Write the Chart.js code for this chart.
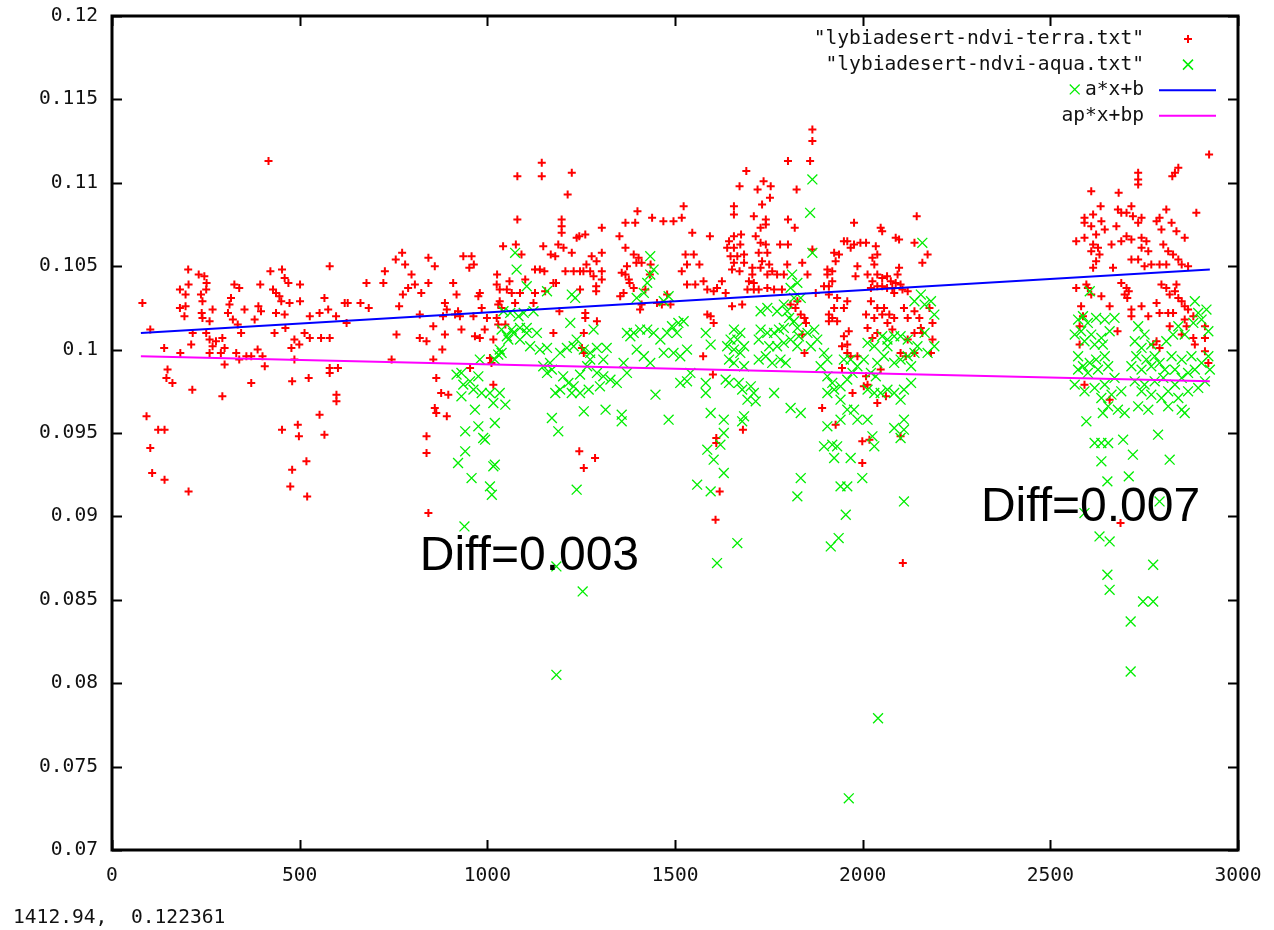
<!DOCTYPE html>
<html lang="en">
<head>
<meta charset="UTF-8">
<title>lybiadesert ndvi terra / aqua</title>
<script src="https://cdn.jsdelivr.net/npm/chart.js"></script>
<style>
  html, body { margin: 0; padding: 0; background: #fff; }
  #wrap { width: 1274px; height: 930px; position: relative; }
</style>
</head>
<body>
<div id="wrap"><canvas id="ndviChart"></canvas></div>
<script>
// axis ticks
const xTicks = [0, 500, 1000, 1500, 2000, 2500, 3000];
const xTickLabels = ['0', '500', '1000', '1500', '2000', '2500', '3000'];
const yTicks = [0.07, 0.075, 0.08, 0.085, 0.09, 0.095, 0.1, 0.105, 0.11, 0.115, 0.12];
const yTickLabels = ['0.07', '0.075', '0.08', '0.085', '0.09', '0.095', '0.1', '0.105', '0.11', '0.115', '0.12'];

const seriesNames = ['"lybiadesert-ndvi-terra.txt"', '"lybiadesert-ndvi-aqua.txt"', 'a*x+b', 'ap*x+bp'];

// terra points [day, ndvi]
const terraPoints = [
  [81,0.1028],[102,0.1012],[139,0.1001],[148,0.0988],[145,0.0983],[161,0.0980],[182,0.0998],[214,0.0976],[92,0.0960],[123,0.0952],[140,0.0952],[102,0.0941],[107,0.0926],[140,0.0922],[204,0.0915],
  [417,0.1113],
  [203,0.1048],[231,0.1045],[246,0.1044],[252,0.1040],[251,0.1036],[237,0.1033],[181,0.1036],[196,0.1033],[196,0.1026],[181,0.1025],[193,0.1020],[204,0.1039],[241,0.1029],[239,0.1022],[241,0.1019],[268,0.1024],[260,0.1017],[215,0.1010],[211,0.1003],[251,0.1010],[260,0.1006],[268,0.1002],[277,0.1005],[294,0.1007],[290,0.0998],[300,0.1001],[260,0.0998],[300,0.0991],[294,0.0972],
  [309,0.1022],[313,0.1027],[317,0.1031],[326,0.1039],[339,0.1037],[322,0.1018],[335,0.1015],[344,0.1010],[353,0.1024],[331,0.0998],[339,0.0994],[358,0.0996],[371,0.0996],[388,0.1000],[401,0.0996],[407,0.0990],[371,0.0980],[380,0.1018],[390,0.1026],[397,0.1023],[395,0.1039],
  [422,0.1047],[429,0.1036],[437,0.1034],[446,0.1032],[451,0.1029],[453,0.1048],[460,0.1043],[470,0.1040],[473,0.1028],[437,0.1022],[460,0.1021],[433,0.1010],[462,0.1013],[501,0.1039],[501,0.1029],[478,0.1001],[486,0.1006],[499,0.1003],[486,0.0994],[480,0.0981],[524,0.0983],[513,0.1010],[527,0.1007],[527,0.1020],[553,0.1022],[566,0.1031],[580,0.1050],[576,0.1024],[597,0.1020],[557,0.1007],[580,0.1007],[580,0.0989],[602,0.0989],[580,0.0986],[598,0.0973],[598,0.0969],[553,0.0961],[566,0.0949],[495,0.0955],[498,0.0948],[453,0.0952],[480,0.0928],[475,0.0918],[518,0.0933],[520,0.0912],
  [620,0.1028],[628,0.1028],[625,0.1016],[662,0.1028],[684,0.1025],[678,0.1040],[723,0.1040],[727,0.1047],[745,0.0994],[758,0.1009],[765,0.1026],[756,0.1054],[773,0.1058],[781,0.1051],[798,0.1045],[807,0.1039],[775,0.1033],[789,0.1037],[824,0.1034],[820,0.1021],[820,0.1007],[838,0.1005],[843,0.1055],[843,0.1040],[838,0.0948],[838,0.0938],[843,0.0902],
  [860,0.1050],[856,0.1014],[887,0.1028],[892,0.1024],[882,0.1020],[887,0.1009],[880,0.1000],[856,0.0994],[864,0.0983],[877,0.0974],[896,0.0973],[860,0.0965],[864,0.0962],[892,0.0960],[909,0.1040],[918,0.1033],[936,0.1056],[958,0.1056],[952,0.1049],[964,0.1051],[914,0.1021],[922,0.1023],[927,0.1020],[931,0.1012],[963,0.1020],[980,0.1034],[976,0.1032],[985,0.1025],[999,0.1019],[993,0.1012],[967,0.1008],[980,0.1007],[1016,0.1006],[954,0.0989],[1011,0.0992],
  [1025,0.1039],[1033,0.1036],[1059,0.1041],[1052,0.1036],[1065,0.1034],[1033,0.1029],[1029,0.1027],[1038,0.1025],[1025,0.1019],[1029,0.1015],[1048,0.1015],[1026,0.1045],[1074,0.1028],[1087,0.1034],[1101,0.1042],[1123,0.1028],[1127,0.1034],[1154,0.1035],[1176,0.1040],[1183,0.1040],[1176,0.1010],[1192,0.1023],[1261,0.1022],[1261,0.1019],[1292,0.1017],[1257,0.1010],[1252,0.1001],[1257,0.0998],[1007,0.0995],[1016,0.0979],[1245,0.0939],[1287,0.0935],[1257,0.0929],
  [1145,0.1112],[1080,0.1104],[1145,0.1104],[1225,0.1106],[1214,0.1093],[1080,0.1078],[1198,0.1078],[1198,0.1074],[1198,0.1070],[1305,0.1073],[1238,0.1067],[1245,0.1068],[1261,0.1069],[1352,0.1068],[1368,0.1076],[1394,0.1076],[1400,0.1083],[1439,0.1079],[1469,0.1077],[1496,0.1077],[1518,0.1079],[1523,0.1086],[1546,0.1070],[1593,0.1068],
  [1042,0.1062],[1076,0.1063],[1091,0.1057],[1149,0.1062],[1169,0.1057],[1181,0.1056],[1189,0.1063],[1203,0.1061],[1225,0.1058],[1305,0.1058],[1278,0.1056],[1291,0.1053],[1264,0.1051],[1274,0.1047],[1208,0.1047],[1230,0.1047],[1247,0.1047],[1256,0.1047],[1127,0.1048],[1140,0.1048],[1152,0.1047],[1305,0.1047],[1305,0.1042],[1283,0.1044],[1290,0.1038],[1290,0.1035],[1247,0.1036],
  [1358,0.1046],[1368,0.1045],[1377,0.1042],[1379,0.1040],[1390,0.1037],[1363,0.1034],[1354,0.1032],[1372,0.1050],[1397,0.1052],[1411,0.1052],[1368,0.1061],[1390,0.1057],[1403,0.1055],[1433,0.1045],[1435,0.1051],[1421,0.1036],[1479,0.1033],[1488,0.1027],[1411,0.1027],[1407,0.1024],[1452,0.1028],[1465,0.1027],
  [1528,0.1057],[1550,0.1057],[1532,0.1051],[1518,0.1047],[1565,0.1051],[1532,0.1039],[1554,0.1039],[1576,0.1041],[1586,0.1036],[1603,0.1035],[1612,0.1037],[1586,0.1021],[1595,0.1020],[1603,0.1016],[1575,0.0996],[1601,0.0985],[1610,0.0947],[1610,0.0944],[1608,0.0898],
  [1866,0.1132],[1866,0.1125],[1801,0.1113],[1860,0.1113],[1690,0.1107],[1672,0.1098],[1736,0.1101],[1720,0.1096],[1755,0.1098],[1753,0.1091],[1824,0.1096],[1657,0.1086],[1657,0.1081],[1732,0.1087],[1710,0.1080],[1742,0.1078],[1728,0.1073],[1742,0.1075],[1801,0.1078],[1819,0.1073],
  [1657,0.1068],[1676,0.1069],[1644,0.1065],[1639,0.1061],[1657,0.1061],[1674,0.1063],[1648,0.1056],[1666,0.1056],[1684,0.1057],[1657,0.1052],[1684,0.1052],[1652,0.1048],[1672,0.1047],
  [1706,0.1049],[1706,0.1045],[1697,0.1041],[1710,0.1040],[1693,0.1036],[1710,0.1036],[1723,0.1036],
  [1715,0.1068],[1728,0.1064],[1742,0.1063],[1723,0.1058],[1746,0.1058],[1732,0.1053],[1751,0.1051],[1759,0.1047],[1728,0.1049],[1746,0.1045],[1780,0.1063],[1801,0.1063],[1799,0.1051],[1772,0.1045],[1790,0.1045],[1746,0.1037],[1764,0.1036],[1785,0.1036],[1853,0.1045],[1839,0.1052],[1866,0.1060],
  [1625,0.1041],[1635,0.1034],[1652,0.1026],[1679,0.1027],[1681,0.0952],[1619,0.0915],
  [1835,0.1021],[1845,0.1019],[1849,0.1016],[1839,0.1009],[1845,0.0998],[1826,0.1029],[1808,0.1027],[1821,0.1025],[1875,0.1034],
  [1897,0.1038],[1910,0.1038],[1906,0.1045],[1919,0.1047],[1928,0.1053],[1937,0.1057],[1924,0.1058],[1906,0.1048],[1919,0.1041],[1910,0.1033],[1932,0.1031],[1924,0.1025],[1910,0.1021],[1919,0.1019],[1932,0.1017],[1910,0.1017],[1950,0.1025],[1959,0.1029],[1950,0.1008],[1963,0.1011],[1945,0.1002],[1959,0.0998],[1945,0.0989],[1892,0.0965],[1928,0.0955],[1973,0.0974],
  [1950,0.1065],[1959,0.1065],[1977,0.1063],[1994,0.1064],[2009,0.1064],[1968,0.1061],[2035,0.1062],[2039,0.1057],[2026,0.1055],[2031,0.1051],[1977,0.1076],[1981,0.1044],[1986,0.1050],[2048,0.1073],[2052,0.1071],[2088,0.1067],[2097,0.1066],[2138,0.1064],[2144,0.1080],[2173,0.1057],[2159,0.1052],
  [2013,0.1045],[2026,0.1041],[2039,0.1045],[2052,0.1043],[2065,0.1044],[2075,0.1041],[2093,0.1045],[2097,0.1049],[2088,0.1040],[2101,0.1039],[2106,0.1036],[2120,0.1035],[2022,0.1037],[2039,0.1038],[2052,0.1038],[2065,0.1037],[2079,0.1037],[2084,0.1034],
  [2022,0.1029],[2039,0.1025],[2057,0.1025],[2009,0.1021],[2031,0.1019],[2052,0.1021],[2071,0.1021],[2084,0.1019],[2013,0.1013],[2026,0.1007],[2039,0.1010],[2066,0.1016],[2079,0.1012],[2110,0.1025],[2120,0.1019],[2138,0.1023],[2151,0.1019],[2155,0.1013],[2138,0.1010],[2120,0.1006],[2159,0.1010],[2178,0.1025],[2186,0.1016],[2186,0.1006],[2182,0.0998],[2115,0.0996],[2138,0.0998],[2101,0.0998],[2048,0.0988],[2039,0.0968],[2062,0.0972],[2003,0.0978],[1999,0.0932],[2018,0.0946],[1999,0.0945],[2101,0.0948],[1959,0.1003],[1968,0.0996],[1986,0.0996],[2013,0.0979],[2009,0.0984],[2107,0.0872],
  [2923,0.1117],[2609,0.1095],[2682,0.1094],[2734,0.1106],[2734,0.1102],[2734,0.1099],[2832,0.1106],[2841,0.1109],[2825,0.1104],[2889,0.1082],
  [2634,0.1086],[2591,0.1079],[2614,0.1081],[2591,0.1076],[2609,0.1074],[2636,0.1077],[2645,0.1072],[2622,0.1069],[2569,0.1065],[2591,0.1067],[2614,0.1063],[2627,0.1061],[2609,0.1059],[2631,0.1057],[2622,0.1053],[2614,0.1049],[2663,0.1063],[2667,0.1049],[2680,0.1084],[2676,0.1074],[2689,0.1082],[2703,0.1082],[2716,0.1086],[2720,0.1080],[2743,0.1079],[2734,0.1076],[2703,0.1068],[2689,0.1065],[2716,0.1066],[2743,0.1067],[2756,0.1065],[2743,0.1061],[2761,0.1059],[2716,0.1054],[2734,0.1054],[2751,0.1050],[2769,0.1051],[2783,0.1077],[2791,0.1079],[2809,0.1084],[2796,0.1072],[2801,0.1063],[2823,0.1076],[2836,0.1071],[2858,0.1067],[2814,0.1059],[2827,0.1057],[2841,0.1054],[2850,0.1051],[2867,0.1050],[2791,0.1051],[2809,0.1051],
  [2569,0.1037],[2596,0.1039],[2600,0.1037],[2609,0.1033],[2636,0.1032],[2658,0.1026],[2582,0.1026],[2578,0.1014],[2587,0.1020],[2578,0.1003],[2591,0.0979],[2679,0.1011],[2658,0.0970],[2689,0.1040],[2703,0.1037],[2698,0.1033],[2709,0.1035],[2705,0.1031],
  [2716,0.1024],[2716,0.1020],[2743,0.1026],[2761,0.1020],[2783,0.1028],[2791,0.1022],[2814,0.1022],[2827,0.1022],[2796,0.1039],[2809,0.1037],[2818,0.1033],[2832,0.1035],[2836,0.1039],[2841,0.1031],[2850,0.1029],[2858,0.1026],[2867,0.1024],[2881,0.1020],[2858,0.1018],[2818,0.1014],[2850,0.1009],[2863,0.1014],[2881,0.1007],[2885,0.1003],[2912,0.1014],[2912,0.1007],[2912,0.0999],[2921,0.0992],[2783,0.1005],[2791,0.1001],[2774,0.1003],[2687,0.0896]
];

// aqua points [day, ndvi]
const aquaPoints = [
  [1074,0.1058],[1078,0.1048],[1105,0.1038],[1159,0.1035],[1225,0.1033],[1234,0.1031],[1434,0.1056],[1443,0.1048],[1434,0.1045],[1426,0.1040],[1417,0.1034],[1398,0.1031],[1483,0.1032],[1470,0.1029],
  [1043,0.1023],[1061,0.1022],[1083,0.1020],[1097,0.1022],[1123,0.1023],[1087,0.1013],[1069,0.1010],[1052,0.1008],[1056,0.1006],[1065,0.1012],[1038,0.1012],
  [1033,0.1000],[1029,0.0997],[1020,0.0994],[1038,0.0998],
  [980,0.0994],[976,0.0984],[954,0.0981],[931,0.0986],[918,0.0985],[936,0.0979],[931,0.0972],[963,0.0976],[985,0.0974],[1007,0.0974],[1033,0.0974],
  [1016,0.0968],[967,0.0964],[1048,0.0967],
  [941,0.0951],[976,0.0954],[1020,0.0956],[994,0.0946],[989,0.0947],
  [941,0.0939],[922,0.0932],[958,0.0923],[1020,0.0931],[1016,0.0930],[1007,0.0918],[1012,0.0913],[939,0.0894],
  [1114,0.1002],[1140,0.1000],[1159,0.1001],[1167,0.0992],[1172,0.0988],[1194,0.0998],[1212,0.1001],[1230,0.1002],[1221,0.1016],[1238,0.1006],[1257,0.1000],[1274,0.0998],[1292,0.1001],[1283,0.1012],[1292,0.0986],[1309,0.0984],[1328,0.0982],[1300,0.0978],[1270,0.0976],[1247,0.0974],[1225,0.0974],[1194,0.0976],[1181,0.0974],[1172,0.0959],[1189,0.0951],[1238,0.0916],[1257,0.0963],[1315,0.0964],[1358,0.0961],[1358,0.0957],[1345,0.0980],[1372,0.0986],[1363,0.0992],
  [1372,0.1010],[1390,0.1010],[1407,0.1012],[1426,0.1012],[1443,0.1010],[1461,0.1006],[1479,0.1010],[1492,0.1014],[1509,0.1016],[1523,0.1017],[1505,0.1010],[1496,0.0998],[1514,0.0996],[1532,0.1000],[1541,0.0986],[1532,0.0981],[1514,0.0980],[1448,0.0973],[1483,0.0958],[1559,0.0919],[1595,0.0915],[1603,0.0934],[1586,0.0940],[1595,0.0962],[1582,0.0974],[1582,0.0980],[1582,0.1010],[1595,0.1003],[1470,0.0998],[1434,0.0992],[1417,0.0996],[1398,0.1000],[1381,0.1008],[1318,0.1001],[1309,0.0994],
  [1149,0.0990],[1159,0.0986],[1202,0.0984],[1216,0.0980],[1230,0.0978],[1247,0.0985],[1266,0.0990],[1274,0.0994],[1087,0.1006],[1105,0.1010],[1132,0.1010],[1105,0.1013],
  [1184,0.0870],[1254,0.0855],[1184,0.0805],
  [1866,0.1102],[1860,0.1082],[1866,0.1058],[2159,0.1064],
  [1812,0.1045],[1826,0.1040],[1808,0.1037],[1835,0.1031],[1817,0.1031],
  [1728,0.1023],[1746,0.1025],[1772,0.1023],[1790,0.1027],[1799,0.1023],[1804,0.1019],[1817,0.1017],[1826,0.1013],[1790,0.1013],[1777,0.1012],[1764,0.1010],[1746,0.1010],[1728,0.1012],[1723,0.1006],[1751,0.1002],[1772,0.1002],[1790,0.1004],[1808,0.1006],[1830,0.1008],[1826,0.1002],[1742,0.0996],[1723,0.0994],[1759,0.0992],[1781,0.0994],[1795,0.0992],
  [1657,0.1012],[1674,0.1010],[1648,0.1006],[1666,0.1006],[1684,0.1002],[1657,0.1000],[1674,0.0998],[1644,0.0994],[1657,0.0992],[1684,0.0990],[1639,0.1002],
  [1635,0.0982],[1644,0.0980],[1670,0.0980],[1679,0.0976],[1702,0.0978],[1710,0.0974],[1693,0.0970],[1715,0.0969],[1684,0.0960],[1679,0.0957],[1630,0.0958],[1630,0.0950],[1621,0.0943],[1630,0.0926],
  [1764,0.0974],[1808,0.0965],[1835,0.0962],[1835,0.0923],[1826,0.0912],
  [1853,0.1010],[1871,0.1012],[1879,0.1006],[1862,0.1002],[1897,0.0998],[1906,0.0994],[1888,0.0990],[1906,0.0984],[1919,0.0980],[1924,0.0976],[1906,0.0974],[1941,0.0978],[1959,0.0982],[1941,0.0970],[1959,0.0964],[1977,0.0964],[1986,0.0958],[2013,0.0958],[1941,0.0958],[1906,0.0954],[1919,0.0943],[1932,0.0942],[1897,0.0942],[1924,0.0935],[1968,0.0935],[1941,0.0918],[1959,0.0918],[1999,0.0923],[1955,0.0901],
  [2022,0.0986],[2035,0.0984],[2039,0.0992],[2057,0.0996],[2066,0.1002],[2084,0.0992],[2101,0.0994],[2120,0.0996],[2129,0.0990],[2129,0.0980],[2110,0.0976],[2084,0.0974],[2066,0.0976],[2048,0.0974],[2031,0.0974],[2013,0.0976],[2101,0.0970],[2110,0.0958],[2110,0.0952],[2084,0.0953],[2101,0.0947],[2026,0.0948],[2031,0.0942],[2110,0.0909],
  [2138,0.1029],[2155,0.1033],[2165,0.1027],[2182,0.1029],[2191,0.1021],[2165,0.1010],[2191,0.1002],[2173,0.0998],[2146,0.1002],[2138,0.0998],[2120,0.1006],[2101,0.1008],[2084,0.1008],[2066,0.1006],[2052,0.1008],[2031,0.1002],[2013,0.1004],[2003,0.0994],[1986,0.0990],[1973,0.0986],[1968,0.0994],[1950,0.0994],
  [1612,0.0872],[1666,0.0884],[1915,0.0882],[1936,0.0887],[2041,0.0779],[1963,0.0731],
  [2565,0.1156],
  [2605,0.1035],[2587,0.1020],[2574,0.1018],[2600,0.1016],[2622,0.1019],[2645,0.1018],[2671,0.1019],[2565,0.1009],[2582,0.1011],[2609,0.1009],[2636,0.1007],[2658,0.1011],[2591,0.1005],[2618,0.1003],[2640,0.1003],[2574,0.0996],[2587,0.0990],[2605,0.0992],[2622,0.0994],[2645,0.0996],[2574,0.0988],[2600,0.0986],[2627,0.0988],[2654,0.0990],[2565,0.0979],[2591,0.0975],[2618,0.0977],[2645,0.0979],[2671,0.0983],[2636,0.0971],[2663,0.0973],[2689,0.0975],[2654,0.0966],[2698,0.0962],[2680,0.0964],[2640,0.0962],
  [2734,0.1014],[2751,0.1009],[2725,0.1005],[2743,0.1001],[2769,0.1003],[2729,0.0996],[2756,0.0994],[2778,0.0996],[2716,0.0990],[2743,0.0988],[2769,0.0990],[2791,0.0992],[2725,0.0981],[2751,0.0979],[2778,0.0981],[2801,0.0983],[2743,0.0975],[2769,0.0973],[2734,0.0966],[2761,0.0964],[2796,0.0971],[2814,0.0975],[2832,0.0979],[2850,0.0983],[2867,0.0986],[2885,0.0988],[2903,0.0992],[2921,0.0996],[2925,0.0988],[2912,0.0981],[2894,0.0977],[2867,0.0975],[2841,0.0971],[2814,0.0966],[2850,0.0964],[2858,0.0962],[2787,0.0949],[2818,0.0934],
  [2809,0.1005],[2827,0.1009],[2841,0.1014],[2858,0.1009],[2881,0.1016],[2894,0.1022],[2885,0.1029],[2916,0.1024],[2903,0.1018],[2921,0.1011],[2823,0.0996],[2850,0.0994],[2876,0.0996],[2805,0.0988],[2832,0.0988],
  [2596,0.0957],[2618,0.0944],[2636,0.0944],[2654,0.0944],[2694,0.0946],[2720,0.0937],[2636,0.0933],[2652,0.0921],[2709,0.0924],[2791,0.0909],[2631,0.0888],[2658,0.0885],[2652,0.0865],[2658,0.0856],[2774,0.0871],[2747,0.0849],[2774,0.0849],[2714,0.0837],[2714,0.0807],[2591,0.0902]
];

// fitted lines, end points
const fitX = [77, 2925];
const terraFitY = [0.1010, 0.1048];
const aquaFitY = [0.0996, 0.0981];

// text labels placed on the plot
const diffNotes = [
  { text: 'Diff=0.003', x: 820, y: 0.0868 },
  { text: 'Diff=0.007', x: 2315, y: 0.0897 }
];
const cursorText = '1412.94,  0.122361';

const monoFont = '"DejaVu Sans Mono", "Liberation Mono", monospace';

function toXY(pairs) {
  return pairs.map(p => ({ x: p[0], y: p[1] }));
}

function drawPlus(ctx, x, y, r, color, w) {
  ctx.strokeStyle = color;
  ctx.lineWidth = w;
  ctx.beginPath();
  ctx.moveTo(x - r, y); ctx.lineTo(x + r, y);
  ctx.moveTo(x, y - r); ctx.lineTo(x, y + r);
  ctx.stroke();
}

function drawCross(ctx, x, y, r, color, w) {
  ctx.strokeStyle = color;
  ctx.lineWidth = w;
  ctx.beginPath();
  ctx.moveTo(x - r, y - r); ctx.lineTo(x + r, y + r);
  ctx.moveTo(x - r, y + r); ctx.lineTo(x + r, y - r);
  ctx.stroke();
}

// gnuplot-like frame with inward ticks on all four sides, key and labels
const gnuplotFrame = {
  id: 'gnuplotFrame',
  beforeDatasetsDraw(chart) {
    const { ctx, chartArea: a, scales } = chart;
    const tick = 10;
    ctx.save();
    ctx.strokeStyle = '#000';
    ctx.lineWidth = 2;
    ctx.beginPath();
    xTicks.forEach(v => {
      const px = Math.round(scales.x.getPixelForValue(v)) + 0.5;
      ctx.moveTo(px, a.bottom); ctx.lineTo(px, a.bottom - tick);
      ctx.moveTo(px, a.top); ctx.lineTo(px, a.top + tick);
    });
    yTicks.forEach(v => {
      const py = Math.round(scales.y.getPixelForValue(v)) + 0.5;
      ctx.moveTo(a.left, py); ctx.lineTo(a.left + tick, py);
      ctx.moveTo(a.right, py); ctx.lineTo(a.right - tick, py);
    });
    ctx.stroke();
    ctx.lineWidth = 3;
    ctx.strokeRect(a.left, a.top, a.right - a.left, a.bottom - a.top);
    ctx.restore();
  },
  afterDatasetsDraw(chart) {
    const { ctx, chartArea: a, scales } = chart;
    ctx.save();

    // key, top right
    const textRight = a.right - 94;
    const markX = a.right - 50;
    ctx.font = '19.6px ' + monoFont;
    ctx.fillStyle = '#111';
    ctx.textAlign = 'right';
    ctx.textBaseline = 'middle';
    chart.data.datasets.forEach((ds, i) => {
      const yy = a.top + 23 + i * 25.6;
      ctx.fillText(ds.label, textRight, yy);
      if (i === 0) drawPlus(ctx, markX, yy, 4, ds.borderColor, 2);
      else if (i === 1) drawCross(ctx, markX, yy, 5, ds.borderColor, 1.5);
      else {
        ctx.strokeStyle = ds.borderColor;
        ctx.lineWidth = 2;
        ctx.beginPath();
        ctx.moveTo(a.right - 79, yy); ctx.lineTo(a.right - 22, yy);
        ctx.stroke();
      }
    });

    // Diff annotations
    ctx.fillStyle = '#000';
    ctx.font = '48px "Liberation Sans", Arial, sans-serif';
    ctx.textAlign = 'left';
    ctx.textBaseline = 'alphabetic';
    diffNotes.forEach(n => {
      ctx.fillText(n.text, scales.x.getPixelForValue(n.x), scales.y.getPixelForValue(n.y));
    });

    // mouse position readout under the plot
    ctx.fillStyle = '#111';
    ctx.font = '19.6px ' + monoFont;
    ctx.fillText(cursorText, 13, 923);
    ctx.restore();
  }
};

Chart.defaults.color = '#111';

const ctx = document.getElementById('ndviChart').getContext('2d');
const ndviChart = new Chart(ctx, {
  type: 'scatter',
  data: {
    datasets: [
      {
        label: seriesNames[0],
        data: toXY(terraPoints),
        borderColor: '#ff0000',
        backgroundColor: '#ff0000',
        pointStyle: 'cross',
        pointRadius: 4,
        pointBorderWidth: 2,
        order: 4
      },
      {
        label: seriesNames[1],
        data: toXY(aquaPoints),
        borderColor: '#00ee00',
        backgroundColor: '#00ee00',
        pointStyle: 'crossRot',
        pointRadius: 7,
        pointBorderWidth: 1.3,
        order: 3
      },
      {
        label: seriesNames[2],
        data: fitX.map((x, i) => ({ x: x, y: terraFitY[i] })),
        borderColor: '#0000ff',
        borderWidth: 2,
        showLine: true,
        pointRadius: 0,
        fill: false,
        order: 2
      },
      {
        label: seriesNames[3],
        data: fitX.map((x, i) => ({ x: x, y: aquaFitY[i] })),
        borderColor: '#ff00ff',
        borderWidth: 2,
        showLine: true,
        pointRadius: 0,
        fill: false,
        order: 1
      }
    ]
  },
  options: {
    responsive: true,
    maintainAspectRatio: false,
    animation: false,
    events: [],
    layout: { padding: { top: 16, right: 36, left: 0, bottom: 0 } },
    plugins: {
      legend: { display: false },
      tooltip: { enabled: false }
    },
    scales: {
      x: {
        type: 'linear',
        min: 0,
        max: 3000,
        afterBuildTicks: s => { s.ticks = xTicks.map(v => ({ value: v })); },
        afterFit: s => { s.height = 80; s.paddingLeft = 0; s.paddingRight = 0; },
        grid: { display: false, drawTicks: false },
        border: { display: false },
        ticks: {
          padding: 14,
          maxRotation: 0,
          font: { family: monoFont, size: 19.6 },
          callback: (v, i) => xTickLabels[i]
        }
      },
      y: {
        type: 'linear',
        min: 0.07,
        max: 0.12,
        afterBuildTicks: s => { s.ticks = yTicks.map(v => ({ value: v })); },
        afterFit: s => { s.width = 112; s.paddingTop = 0; s.paddingBottom = 0; },
        grid: { display: false, drawTicks: false },
        border: { display: false },
        ticks: {
          padding: 14,
          font: { family: monoFont, size: 19.6 },
          callback: (v, i) => yTickLabels[i]
        }
      }
    }
  },
  plugins: [gnuplotFrame]
});
</script>
</body>
</html>
